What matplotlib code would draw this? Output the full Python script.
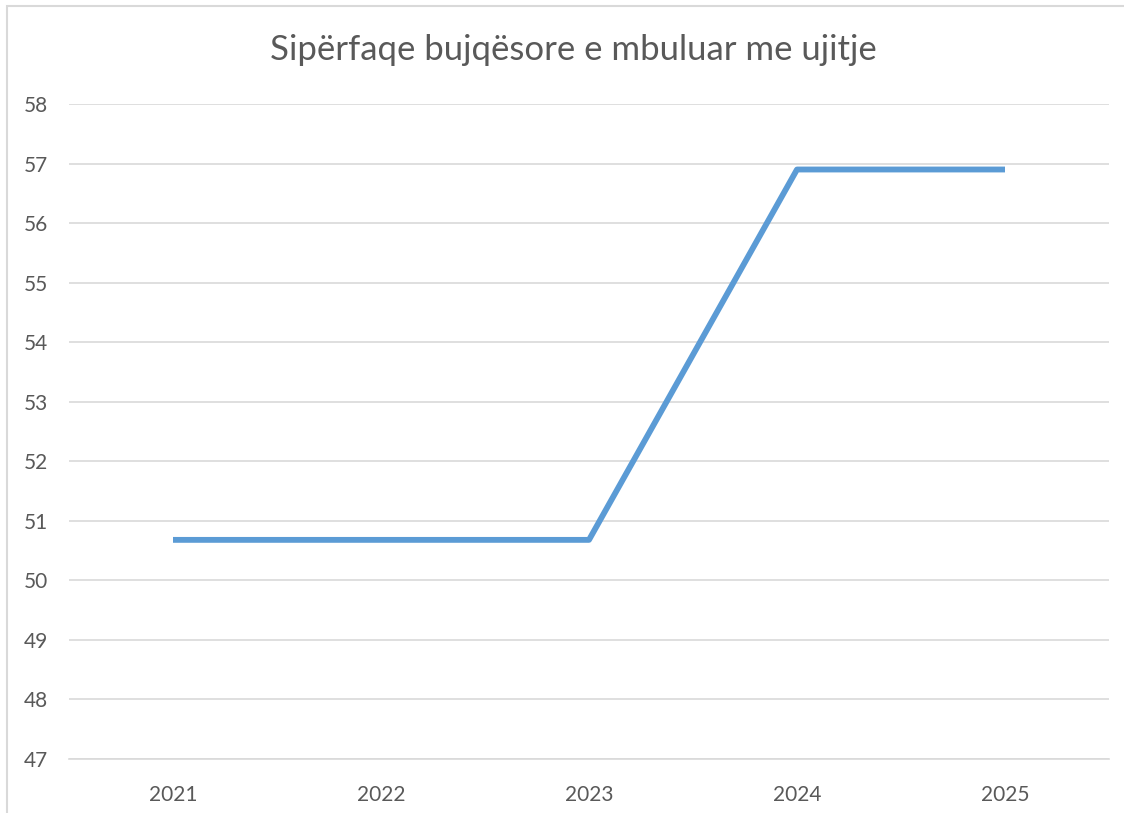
import matplotlib
matplotlib.use('Agg')
import matplotlib.pyplot as plt
from matplotlib.patches import Rectangle

# Daten
years = ['2021', '2022', '2023', '2024', '2025']
values = [50.68, 50.68, 50.68, 56.9, 56.9]
y_ticks = list(range(47, 59))

plt.rcParams['font.family'] = ['Lato', 'DejaVu Sans']

fig = plt.figure(figsize=(11.24, 8.13), dpi=100)
ax = fig.add_axes([69 / 1124, 1 - 759 / 813, (1109 - 69) / 1124, (759 - 104) / 813])

x = list(range(len(years)))
ax.plot(x, values, color='#5B9BD5', linewidth=4.2, solid_joinstyle='round', solid_capstyle='butt', zorder=3)

ax.set_xlim(-0.5, len(years) - 0.5)
ax.set_ylim(47, 58)
ax.set_xticks(x)
ax.set_xticklabels(years)
ax.set_yticks(y_ticks)

ax.grid(axis='y', color='#D9D9D9', linewidth=1.2)
ax.set_axisbelow(True)
for s in ['top', 'right', 'left']:
    ax.spines[s].set_visible(False)
ax.spines['bottom'].set_color('#D9D9D9')
ax.spines['bottom'].set_linewidth(1.2)

ax.tick_params(axis='both', length=0, colors='#595959', labelsize=15)
ax.tick_params(axis='x', pad=19)
ax.tick_params(axis='y', pad=15)

fig.text(573 / 1124, 1 - 50 / 813, 'Sipërfaqe bujqësore e mbuluar me ujitje',
         ha='center', va='center', fontsize=25, color='#595959')

# Rahmen des Diagramms
fig.patches.append(Rectangle((7 / 1124, -0.1), 1.2, 1 - 6.5 / 813 + 0.1, transform=fig.transFigure,
                             fill=False, edgecolor='#D9D9D9', linewidth=1.5))

fig.savefig('out.png', dpi=100)
